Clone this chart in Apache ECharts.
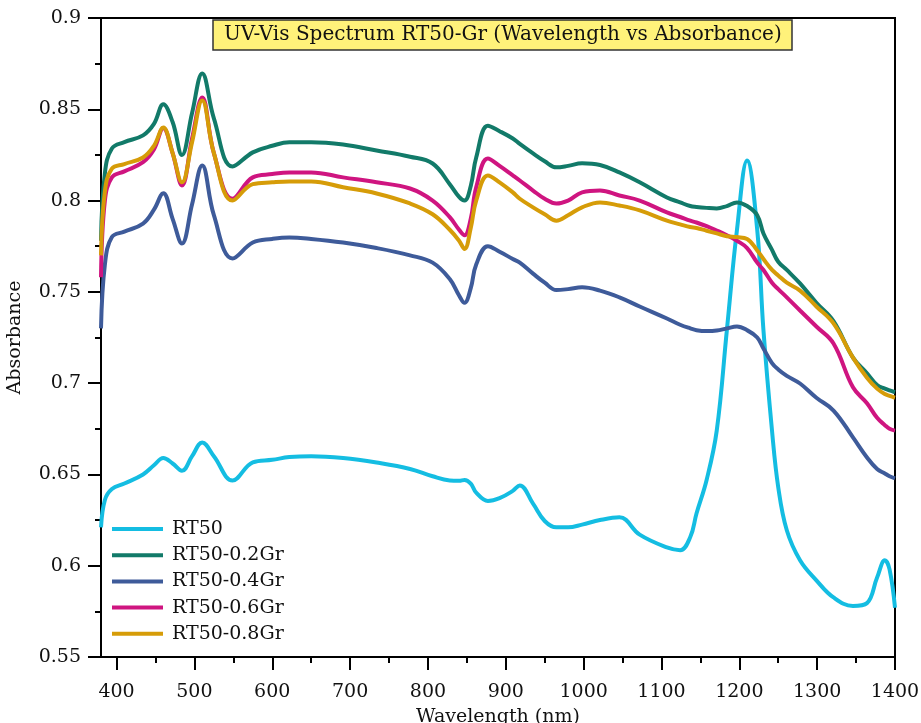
<!DOCTYPE html>
<html>
<head>
<meta charset="utf-8">
<script src="https://cdn.jsdelivr.net/npm/echarts@6/dist/echarts.min.js"></script>
<style>html,body{margin:0;padding:0;background:#fff;overflow:hidden}#c{width:921px;height:723px}</style>
</head>
<body>
<div id="c"></div>
<script>
const wavelengths = [380,385,394,410,434,448,460,472,484,497,510,525,549,575,600,622,650,691,734,777,806,828,840,847,855,862,877,892,909,918,935,950,965,980,998,1021,1046,1072,1107,1124,1137,1145,1158,1171,1184,1197,1210,1223,1231,1242,1250,1261,1278,1299,1321,1346,1364,1377,1387,1393,1400];
const rt50 = [0.621,0.636,0.642,0.645,0.650,0.655,0.659,0.656,0.652,0.660,0.6675,0.660,0.6467,0.6566,0.658,0.6595,0.660,0.659,0.6565,0.653,0.649,0.6467,0.6465,0.647,0.645,0.640,0.6355,0.637,0.641,0.644,0.634,0.6245,0.621,0.621,0.6225,0.625,0.6265,0.617,0.610,0.6085,0.6157,0.6286,0.647,0.674,0.729,0.784,0.822,0.784,0.729,0.674,0.643,0.6194,0.603,0.592,0.5826,0.578,0.5795,0.5935,0.603,0.598,0.577];
const rt50_02 = [0.778,0.815,0.8285,0.832,0.8357,0.842,0.8527,0.843,0.825,0.848,0.8696,0.845,0.8187,0.8264,0.830,0.832,0.832,0.8307,0.8274,0.824,0.8203,0.809,0.802,0.800,0.808,0.8236,0.841,0.838,0.834,0.831,0.8258,0.8215,0.8182,0.819,0.8204,0.8195,0.8154,0.810,0.8017,0.799,0.797,0.7965,0.796,0.7957,0.797,0.799,0.797,0.792,0.782,0.773,0.7665,0.762,0.7546,0.744,0.734,0.714,0.7054,0.699,0.697,0.696,0.695];
const rt50_04 = [0.730,0.765,0.780,0.783,0.7874,0.795,0.804,0.790,0.7765,0.798,0.8192,0.792,0.7683,0.777,0.779,0.7798,0.779,0.777,0.774,0.770,0.766,0.757,0.748,0.744,0.752,0.765,0.775,0.772,0.768,0.766,0.760,0.755,0.751,0.7515,0.7525,0.7507,0.747,0.742,0.7354,0.732,0.730,0.729,0.7285,0.7288,0.730,0.731,0.729,0.725,0.719,0.711,0.7075,0.704,0.6998,0.692,0.685,0.6703,0.6593,0.653,0.6505,0.649,0.6478];
const rt50_06 = [0.758,0.800,0.8127,0.816,0.821,0.828,0.8396,0.826,0.8083,0.834,0.8565,0.826,0.801,0.8127,0.8145,0.8154,0.8154,0.8127,0.810,0.8066,0.800,0.7909,0.784,0.781,0.790,0.8073,0.823,0.819,0.8138,0.811,0.8055,0.801,0.7984,0.800,0.8045,0.8055,0.8028,0.800,0.7935,0.791,0.789,0.788,0.786,0.7836,0.781,0.778,0.774,0.766,0.762,0.755,0.7515,0.747,0.7398,0.731,0.7217,0.6977,0.689,0.681,0.677,0.675,0.674];
const rt50_08 = [0.770,0.805,0.8175,0.820,0.8236,0.830,0.840,0.826,0.810,0.832,0.8548,0.826,0.800,0.809,0.810,0.8105,0.8105,0.8073,0.8039,0.7984,0.7925,0.784,0.778,0.7735,0.785,0.800,0.8138,0.810,0.8045,0.801,0.7963,0.7925,0.789,0.792,0.7963,0.799,0.7973,0.7946,0.789,0.787,0.7855,0.785,0.7835,0.782,0.7805,0.780,0.779,0.7727,0.768,0.762,0.759,0.755,0.7507,0.742,0.7327,0.714,0.703,0.697,0.694,0.693,0.692];
const seriesNames = ['RT50','RT50-0.2Gr','RT50-0.4Gr','RT50-0.6Gr','RT50-0.8Gr'];
const xMajorTicks = [400,500,600,700,800,900,1000,1100,1200,1300,1400];
const xMinorTicks = [450,550,650,750,850,950,1050,1150,1250,1350];

const colors = ['#14BDE2','#127A69','#3E5B9A','#CF1580','#D69C08'];
const FONT = "'DejaVu Serif','Liberation Serif',serif";
const allVals = [rt50, rt50_02, rt50_04, rt50_06, rt50_08];

const chart = echarts.init(document.getElementById('c'), null, {renderer:'canvas'});
chart.setOption({
  animation: false,
  backgroundColor: '#fff',
  title: {
    text: 'UV-Vis Spectrum RT50-Gr (Wavelength vs Absorbance)',
    left: 213, top: 20,
    backgroundColor: '#FFF27A',
    borderColor: '#333', borderWidth: 1.5,
    padding: [4, 11, 4, 11],
    textStyle: {fontFamily: FONT, fontSize: 20, fontWeight: 'normal', color: '#111', lineHeight: 22}
  },
  legend: {
    orient: 'vertical', left: 112, top: 519, padding: 0,
    icon: 'rect', itemWidth: 51, itemHeight: 4, itemGap: 6.2,
    textStyle: {fontFamily: FONT, fontSize: 19, color: '#111', lineHeight: 20, padding: [0,0,0,4]},
    data: seriesNames
  },
  grid: {left: 101, right: 26, top: 18, bottom: 66, show: true, borderColor: '#000', borderWidth: 2, outerBoundsMode: 'none', containLabel: false},
  xAxis: [{
    type: 'value', min: 380, max: 1400,
    name: 'Wavelength (nm)', nameLocation: 'middle', nameGap: 51,
    nameTextStyle: {fontFamily: FONT, fontSize: 19, color: '#111'},
    axisLine: {lineStyle: {color: '#000', width: 2}},
    axisTick: {show: true, customValues: xMajorTicks, length: 13, lineStyle: {color: '#000', width: 2}},
    axisLabel: {customValues: xMajorTicks, formatter: v => String(v), fontFamily: FONT, fontSize: 19, color: '#111', margin: 26},
    splitLine: {show: false}
  }, {
    type: 'value', min: 380, max: 1400, gridIndex: 0, position: 'bottom',
    axisLine: {show: false},
    axisTick: {show: true, customValues: xMinorTicks, length: 6, lineStyle: {color: '#000', width: 2}},
    axisLabel: {show: false},
    splitLine: {show: false}
  }],
  yAxis: {
    type: 'value', min: 0.55, max: 0.9, interval: 0.05,
    name: 'Absorbance', nameLocation: 'middle', nameGap: 76,
    nameTextStyle: {fontFamily: FONT, fontSize: 19, color: '#111'},
    axisLine: {show: true, lineStyle: {color: '#000', width: 2}},
    axisTick: {show: true, length: 13, lineStyle: {color: '#000', width: 2}},
    minorTick: {show: true, splitNumber: 2, length: 6, lineStyle: {color: '#000', width: 2}},
    axisLabel: {fontFamily: FONT, fontSize: 19, color: '#111', margin: 20, formatter: v => String(Math.round(v*100)/100)},
    splitLine: {show: false}
  },
  series: seriesNames.map((n, i) => ({
    name: n, type: 'line', xAxisIndex: 0,
    data: wavelengths.map((w, k) => [w, allVals[i][k]]),
    showSymbol: false, symbol: 'none',
    smooth: 0.4,
    lineStyle: {color: colors[i], width: 4},
    itemStyle: {color: colors[i]}
  }))
});
</script>
</body>
</html>
